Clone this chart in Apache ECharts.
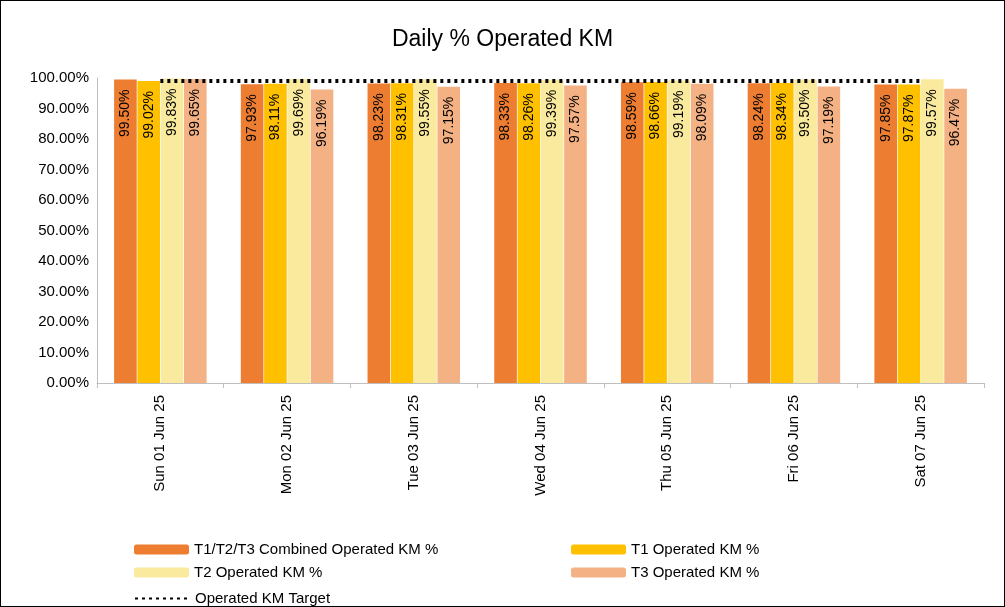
<!DOCTYPE html>
<html>
<head>
<meta charset="utf-8">
<script src="https://cdn.jsdelivr.net/npm/echarts@6/dist/echarts.min.js"></script>
<style>
html,body{margin:0;padding:0;background:#fff;}
#main{width:1003px;height:605px;border:1px solid #000;}
</style>
</head>
<body>
<div id="main"></div>
<script>
var days = ['Sun 01 Jun 25','Mon 02 Jun 25','Tue 03 Jun 25','Wed 04 Jun 25','Thu 05 Jun 25','Fri 06 Jun 25','Sat 07 Jun 25'];
var combined = [99.50, 97.93, 98.23, 98.33, 98.59, 98.24, 97.85];
var t1 = [99.02, 98.11, 98.31, 98.26, 98.66, 98.34, 97.87];
var t2 = [99.83, 99.69, 99.55, 99.39, 99.19, 99.50, 99.57];
var t3 = [99.65, 96.19, 97.15, 97.57, 98.09, 97.19, 96.47];
var target = [99, 99, 99, 99, 99, 99, 99];

var font = '"Liberation Sans", Arial, sans-serif';

function barSeries(name, data, color){
    return {
        name: name,
        type: 'bar',
        data: data.map(function(v){ return v / 100; }),
        barGap: '3%',
        barCategoryGap: '27%',
        itemStyle: {color: color},
        label: {
            show: true,
            position: 'insideTop',
            rotate: 90,
            align: 'right',
            verticalAlign: 'middle',
            distance: 10,
            color: '#000',
            fontSize: 14,
            fontFamily: font,
            formatter: function(p){ return (p.value * 100).toFixed(2) + '%'; }
        }
    };
}

var legendText = {fontSize: 15, color: '#000', fontFamily: font};

var option = {
    animation: false,
    textStyle: {fontFamily: font},
    title: {
        text: 'Daily % Operated KM',
        left: 'center',
        top: 22,
        textStyle: {fontSize: 23, fontWeight: 'normal', color: '#000', fontFamily: font}
    },
    grid: {left: 96, right: 20, top: 77, bottom: 223},
    legend: [
        {left: 128, top: 536, orient: 'vertical', itemGap: 8, itemWidth: 55, itemHeight: 10,
         textStyle: legendText, data: ['T1/T2/T3 Combined Operated KM %', 'T2 Operated KM %']},
        {left: 565, top: 536, orient: 'vertical', itemGap: 8, itemWidth: 55, itemHeight: 10,
         textStyle: legendText, data: ['T1 Operated KM %', 'T3 Operated KM %']},
        {left: 128, top: 585, itemWidth: 55, itemHeight: 10,
         textStyle: legendText, data: [{name: 'Operated KM Target', itemStyle: {opacity: 0}}]}
    ],
    xAxis: {
        type: 'category',
        data: days,
        axisLine: {lineStyle: {color: '#bfbfbf'}},
        axisTick: {show: true, lineStyle: {color: '#bfbfbf'}},
        axisLabel: {rotate: 90, color: '#000', fontSize: 15, margin: 12, fontFamily: font}
    },
    yAxis: {
        type: 'value',
        min: 0,
        max: 1,
        interval: 0.1,
        splitLine: {show: false},
        axisLine: {show: true, lineStyle: {color: '#bfbfbf'}},
        axisTick: {show: false},
        axisLabel: {color: '#000', fontSize: 15, fontFamily: font, formatter: function(v){ return (v * 100).toFixed(2) + '%'; }}
    },
    series: [
        barSeries('T1/T2/T3 Combined Operated KM %', combined, '#ED7D31'),
        barSeries('T1 Operated KM %', t1, '#FFC000'),
        barSeries('T2 Operated KM %', t2, '#F9EA9D'),
        barSeries('T3 Operated KM %', t3, '#F4B183'),
        {
            name: 'Operated KM Target',
            type: 'line',
            data: target.map(function(v){ return v / 100; }),
            symbol: 'none',
            lineStyle: {color: '#000', width: 4, type: [3, 4]},
            itemStyle: {color: '#000'},
            z: 5
        }
    ]
};

var chart = echarts.init(document.getElementById('main'));
chart.setOption(option);
</script>
</body>
</html>
